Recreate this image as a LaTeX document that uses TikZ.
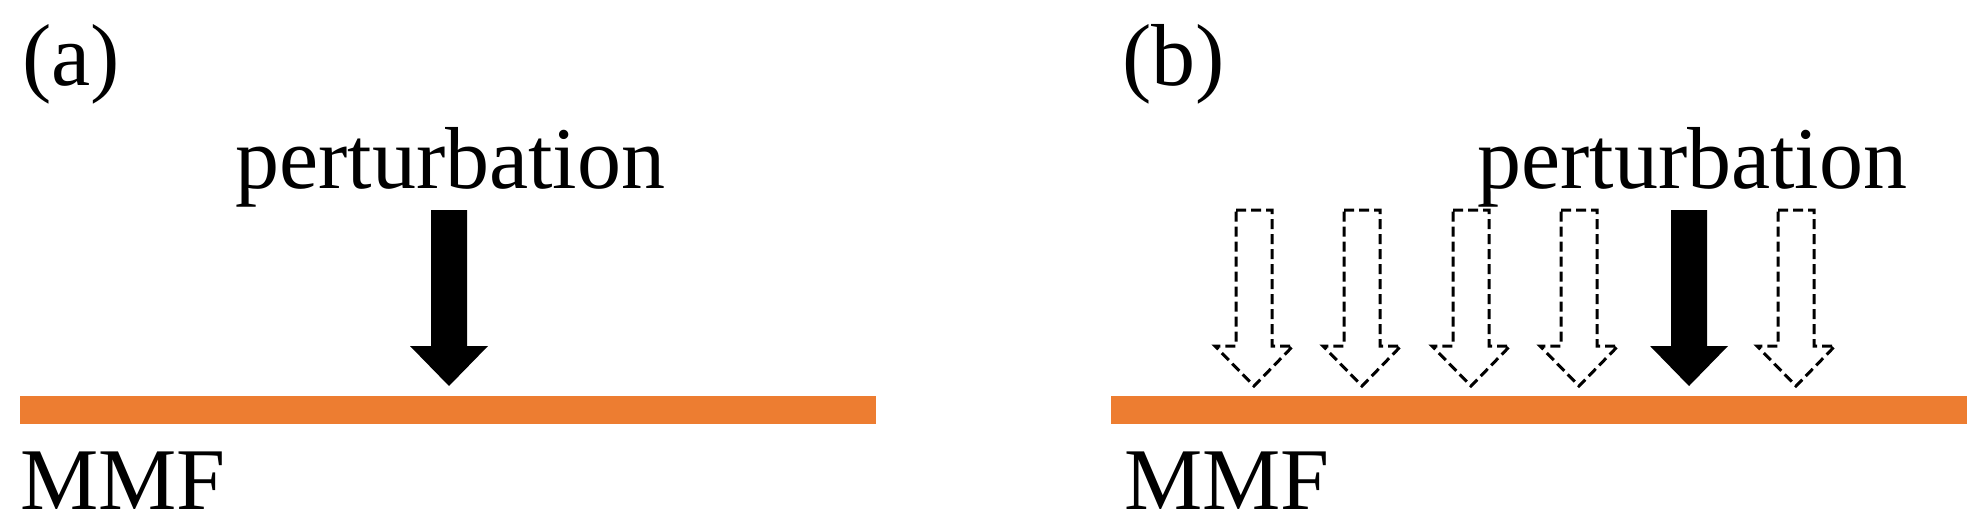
\documentclass[tikz,border=0pt]{standalone}
\usepackage{fontspec}
\setmainfont{Liberation Serif}
\definecolor{mmf}{HTML}{ED7D31}
\begin{document}
\begin{tikzpicture}[x=1pt,y=-1pt,
  lbl/.style={font=\fontsize{88}{88}\selectfont, inner sep=0pt, anchor=base west},
  bar/.style={fill=mmf, draw=none},
  solidarrow/.style={fill=black, draw=none},
  dasharrow/.style={draw=black, fill=white, line width=3pt, dash pattern=on 10pt off 5pt, line join=miter}]
\useasboundingbox (0,0) rectangle (1980,532);
\newcommand{\parrow}[2]{% center x, style
  \path[#2] (#1-18,210) -- (#1+18,210) -- (#1+18,346) -- (#1+39,346) -- (#1,386) -- (#1-39,346) -- (#1-18,346) -- cycle;}
% panel a
\node[lbl] (la) at (22,86) {(a)};
\node[lbl] (pa) at (235,188) {perturbation};
\fill[bar] (20,396) rectangle (876,424);
\parrow{449}{solidarrow}
\node[lbl] (ma) at (20,509) {MMF};
% panel b
\node[lbl] (lb) at (1122,86) {(b)};
\node[lbl] (pb) at (1477,188) {perturbation};
\fill[bar] (1111,396) rectangle (1967,424);
\parrow{1254}{dasharrow}
\parrow{1362}{dasharrow}
\parrow{1471}{dasharrow}
\parrow{1579}{dasharrow}
\parrow{1689}{solidarrow}
\parrow{1796}{dasharrow}
\node[lbl] (mb) at (1124,509) {MMF};
\end{tikzpicture}
\end{document}
